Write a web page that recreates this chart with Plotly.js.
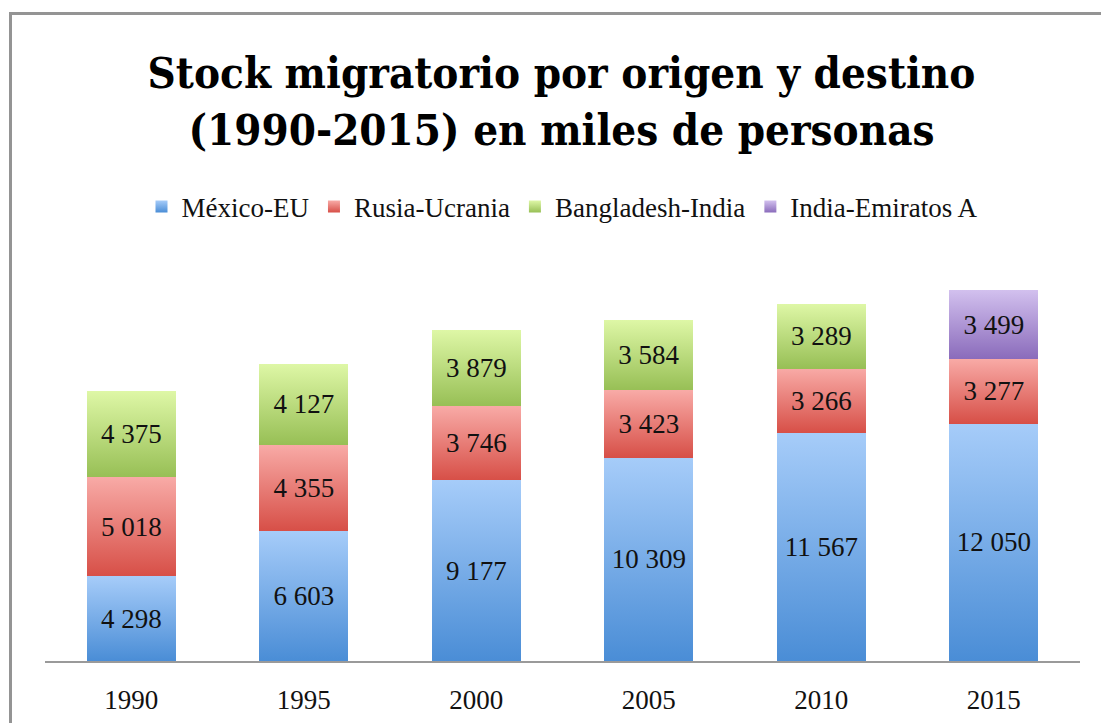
<!DOCTYPE html>
<html>
<head>
<meta charset="utf-8">
<script src="https://cdn.plot.ly/plotly-3.0.1.min.js"></script>
<style>
  html, body { margin: 0; padding: 0; background: #fff; overflow: hidden; }
  #chart { position: absolute; left: 0; top: 0; width: 1101px; height: 723px; }
  #frame { position: absolute; left: 9px; top: 12px; width: 2000px; height: 2000px;
           border-left: 3px solid #949494; border-top: 3px solid #949494;
           pointer-events: none; box-sizing: border-box; }
</style>
</head>
<body>
<div id="chart"></div>
<div id="frame"></div>
<script>
// ---- data ----
const years = ['1990', '1995', '2000', '2005', '2010', '2015'];
const mexicoEU = [4298, 6603, 9177, 10309, 11567, 12050];
const rusiaUcrania = [5018, 4355, 3746, 3423, 3266, 3277];
const bangladeshIndia = [4375, 4127, 3879, 3584, 3289, null];
const indiaEmiratos = [null, null, null, null, null, 3499];
const seriesNames = ['México-EU', 'Rusia-Ucrania', 'Bangladesh-India', 'India-Emiratos A'];

// ---- styles ----
const baseColors = ['#77a9e7', '#e87b74', '#bddb82', '#ad95d5'];
const gradStops = [
  ['#a6ccf9', '#4a8dd6'],
  ['#f8aaa6', '#d74f47'],
  ['#def7a6', '#97bf55'],
  ['#d2c0ee', '#8a6bbb']
];
const serif = '"Liberation Serif", "Times New Roman", serif';
const labelFont = { family: serif, size: 27, color: '#111' };

const seriesData = [mexicoEU, rusiaUcrania, bangladeshIndia, indiaEmiratos];
const traces = seriesData.map((vals, i) => ({
  type: 'bar',
  name: seriesNames[i],
  x: years,
  y: vals,
  marker: { color: baseColors[i], line: { width: 0 } },
  texttemplate: '%{y:,}',
  textposition: 'inside',
  insidetextanchor: 'middle',
  constraintext: 'none',
  insidetextfont: labelFont,
  textfont: labelFont,
  hoverinfo: 'x+y+name'
}));

const layout = {
  width: 1101,
  height: 723,
  barmode: 'stack',
  bargap: 0.484,
  separators: ', ',
  paper_bgcolor: '#ffffff',
  plot_bgcolor: '#ffffff',
  margin: { l: 45, r: 21, t: 261, b: 62 },
  font: { family: serif, color: '#111' },
  title: {
    text: 'Stock migratorio por origen y destino<br>(1990-2015) en miles de personas',
    font: { family: '"DejaVu Serif Condensed", "DejaVu Serif", serif', size: 43.5, color: '#000', weight: 'bold' },
    x: 0.51, xanchor: 'center',
    yref: 'container', y: 1 - 88 / 723, yanchor: 'middle'
  },
  showlegend: true,
  legend: {
    orientation: 'h',
    xref: 'paper', x: 0.5, xanchor: 'center',
    yref: 'container', y: 1 - 207 / 723, yanchor: 'middle',
    font: { family: serif, size: 27, color: '#111' },
    traceorder: 'normal',
    itemwidth: 30,
    bgcolor: 'rgba(0,0,0,0)'
  },
  xaxis: {
    type: 'category',
    showgrid: false,
    zeroline: false,
    showline: true,
    linecolor: '#9a9a9a',
    linewidth: 2,
    ticks: '',
    ticklabelstandoff: 14,
    tickfont: { family: serif, size: 27, color: '#111' },
    fixedrange: true
  },
  yaxis: {
    range: [0, 20305],
    visible: false,
    showgrid: false,
    zeroline: false,
    fixedrange: true
  }
};

function applyGradients(gd) {
  const svg = gd.querySelector('svg.main-svg');
  if (!svg) return;
  const NS = 'http://www.w3.org/2000/svg';
  let defs = svg.querySelector('defs');
  if (!defs) { defs = document.createElementNS(NS, 'defs'); svg.insertBefore(defs, svg.firstChild); }
  gradStops.forEach((stops, i) => {
    const lg = document.createElementNS(NS, 'linearGradient');
    lg.setAttribute('id', 'barGrad' + i);
    lg.setAttribute('x1', '0'); lg.setAttribute('y1', '0');
    lg.setAttribute('x2', '0'); lg.setAttribute('y2', '1');
    stops.forEach((c, k) => {
      const s = document.createElementNS(NS, 'stop');
      s.setAttribute('offset', k === 0 ? '0' : '1');
      s.setAttribute('stop-color', c);
      lg.appendChild(s);
    });
    defs.appendChild(lg);
  });
  gd.querySelectorAll('.barlayer .trace').forEach(tr => {
    const d = tr.__data__;
    const idx = d && d[0] && d[0].trace ? d[0].trace.index : null;
    if (idx == null) return;
    tr.querySelectorAll('.point path').forEach(p => { p.style.fill = 'url(#barGrad' + idx + ')'; });
  });
  gd.querySelectorAll('.legend .traces').forEach(tr => {
    const d = tr.__data__;
    const idx = d && d[0] && d[0].trace ? d[0].trace.index : null;
    if (idx == null) return;
    tr.querySelectorAll('.legendpoints path').forEach(p => { p.style.fill = 'url(#barGrad' + idx + ')'; });
  });
}

Plotly.newPlot('chart', traces, layout, { displayModeBar: false, staticPlot: true })
  .then(gd => applyGradients(gd));
</script>
</body>
</html>
